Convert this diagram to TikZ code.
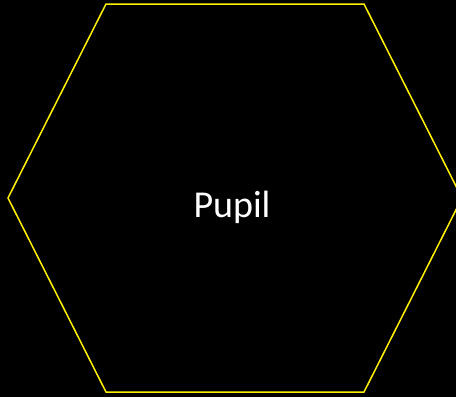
\documentclass[tikz,border=0pt]{standalone}
\usepackage{fontspec}
\setmainfont{Carlito}
\tikzset{
    hexline/.style={draw=yellow, line width=1.5pt, line join=miter},
    label/.style={text=white, font=\fontsize{38}{44}\selectfont},
}
\begin{document}
\begin{tikzpicture}[x=1pt, y=-1pt]
    \fill[black] (0,0) rectangle (456,397);
    \useasboundingbox (0,0) rectangle (456,397);

    % hexagon corners
    \coordinate (tl) at (106,4);
    \coordinate (tr) at (364,4);
    \coordinate (r)  at (462,198);
    \coordinate (br) at (364,392);
    \coordinate (bl) at (106,392);
    \coordinate (l)  at (8,198);

    \draw[hexline] (tl) -- (tr) -- (r) -- (br) -- (bl) -- (l) -- cycle;
    \node[label] (pupil) at (232,207) {Pupil};
\end{tikzpicture}
\end{document}
